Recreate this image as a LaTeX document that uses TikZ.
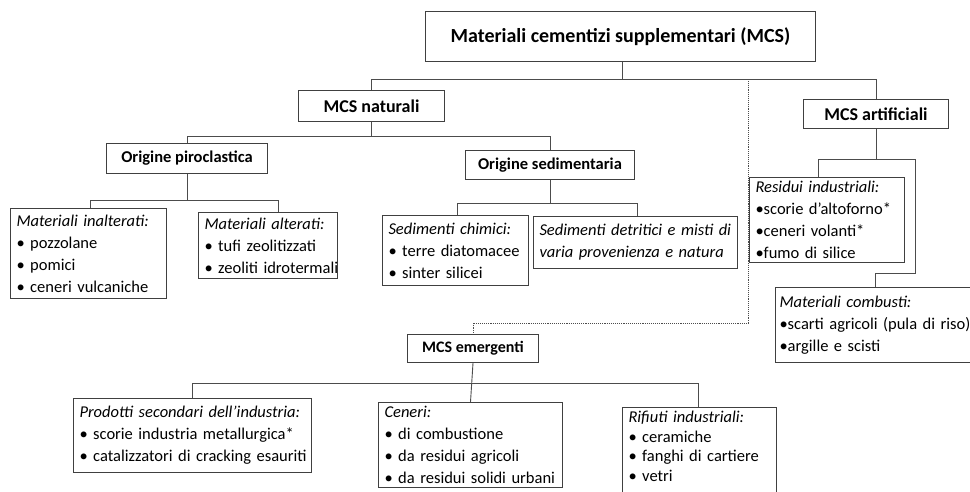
\documentclass[tikz,border=0pt]{standalone}
\usepackage{fontspec}
\setmainfont{Carlito}
\begin{document}
\begin{tikzpicture}[x=1pt,y=-1pt,
  hbox/.style={draw=black!75, line width=1pt, inner sep=0pt, anchor=north west, align=center, font=\bfseries\fontsize{16.5}{19}\selectfont},
  lbox/.style={draw=black!75, line width=1pt, inner xsep=6pt, inner ysep=0pt, anchor=north west, align=left, font=\fontsize{16.5}{22}\selectfont},
  conn/.style={draw=black!70, line width=0.9pt},
  dconn/.style={draw=black!70, line width=0.9pt, densely dotted}]
\path[use as bounding box] (0,0) rectangle (970,491);
\clip (0,0) rectangle (970,491);
\fill[white] (0,0) rectangle (970,491);

% headings
\node[hbox, minimum width=390pt, minimum height=50pt, font=\bfseries\fontsize{20}{24}\selectfont] (top) at (425,11) {Materiali cementizi supplementari (MCS)};
\node[hbox, minimum width=146pt, minimum height=31pt, font=\bfseries\fontsize{18}{21}\selectfont] (nat) at (298,90) {MCS naturali};
\node[hbox, minimum width=145pt, minimum height=29pt, font=\bfseries\fontsize{18}{21}\selectfont] (art) at (803,99) {MCS artificiali};
\node[hbox, minimum width=161pt, minimum height=30pt] (pir) at (106,143) {Origine piroclastica};
\node[hbox, minimum width=169pt, minimum height=29pt] (sed) at (465,150) {Origine sedimentaria};
\node[hbox, minimum width=131pt, minimum height=28pt, font=\bfseries\fontsize{16}{19}\selectfont] (eme) at (407,334) {MCS emergenti};

% list boxes
\node[lbox, text width=144pt, minimum height=90pt] (ina) at (10,208) {\mbox{\textit{Materiali inalterati:}}\\\mbox{• pozzolane}\\\mbox{• pomici}\\\mbox{• ceneri vulcaniche}};
\node[lbox, text width=127pt, minimum height=66pt] (alt) at (198,212) {\mbox{\textit{Materiali alterati:}}\\\mbox{• tufi zeolitizzati}\\\mbox{• zeoliti idrotermali}};
\node[lbox, text width=134pt, minimum height=70pt] (chi) at (382,215) {\mbox{\textit{Sedimenti chimici:}}\\\mbox{• terre diatomacee}\\\mbox{• sinter silicei}};
\node[lbox, text width=192pt, minimum height=52pt] (det) at (533,216) {\mbox{\textit{Sedimenti detritici e misti di}}\\\mbox{\textit{varia provenienza e natura}}};
\node[lbox, text width=143pt, minimum height=85pt] (res) at (749,177) {\mbox{\textit{Residui industriali:}}\\\mbox{•scorie d’altoforno*}\\\mbox{•ceneri volanti*}\\\mbox{•fumo di silice}};
\node[lbox, inner xsep=4pt, text width=202pt, minimum height=75pt] (com) at (775,287) {\mbox{\textit{Materiali combusti:}}\\\mbox{•scarti agricoli (pula di riso)}\\\mbox{•argille e scisti}};
\node[lbox, text width=226pt, minimum height=74pt] (pro) at (73,398) {\mbox{\textit{Prodotti secondari dell’industria:}}\\\mbox{• scorie industria metallurgica*}\\\mbox{• catalizzatori di cracking esauriti}};
\node[lbox, text width=172pt, minimum height=85pt] (cen) at (378,402) {\mbox{\textit{Ceneri:}}\\\mbox{• di combustione}\\\mbox{• da residui agricoli}\\\mbox{• da residui solidi urbani}};
\node[lbox, text width=142pt, inner ysep=4pt, font=\fontsize{16.5}{19.5}\selectfont] (rif) at (622,407) {\mbox{\textit{Rifiuti industriali:}}\\\mbox{• ceramiche}\\\mbox{• fanghi di cartiere}\\\mbox{• vetri}\rule[-14pt]{0pt}{14pt}};

% connectors
\coordinate (b1) at (622,79);
\draw[conn] (top.south -| b1) -- (b1);
\draw[conn] (nat.north) -- (nat.north |- b1) -- (art.north |- b1) -- (art.north);

\coordinate (b2) at (370,136);
\draw[conn] (nat.south) -- (nat.south |- b2);
\draw[conn] (pir.north) -- (pir.north |- b2) -- (550,136) -- (sed.north -| 550,0);

\coordinate (b3) at (186,200);
\draw[conn] (pir.south) -- (pir.south |- b3);
\draw[conn] (ina.north -| 90,0) -- (90,200) -- (278,200) -- (alt.north -| 278,0);

\draw[conn] (sed.south -| 550,0) -- (550,203);
\draw[conn] (chi.north -| 457,0) -- (457,203) -- (637,203) -- (det.north -| 637,0);

\draw[conn] (art.south) -- (art.south |- 0,159);
\draw[conn] (res.north -| 818,0) -- (818,159) -- (915,159) -- (915,273) -- (875,273) -- (com.north -| 875,0);

\draw[dconn] (748,79) -- (748,323) -- (eme.north |- 0,323) -- (eme.north);

\draw[conn] (eme.south) -- (cen.north);
\draw[conn] (pro.north) -- (pro.north |- 0,383) -- (698,383) -- (rif.north -| 698,0);
\end{tikzpicture}
\end{document}
